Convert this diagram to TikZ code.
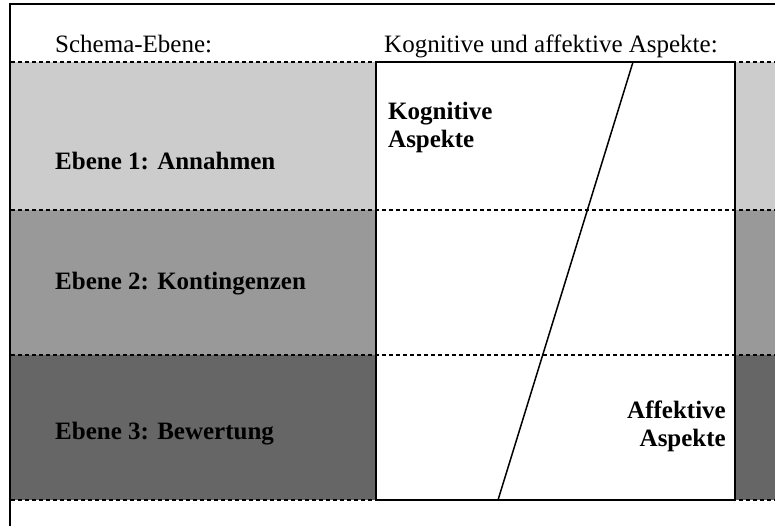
\documentclass[tikz,border=0pt]{standalone}
\usepackage{fontspec}
\setmainfont{Liberation Serif}
\usetikzlibrary{positioning}
\definecolor{ebeneA}{gray}{0.8}
\definecolor{ebeneB}{gray}{0.6}
\definecolor{ebeneC}{gray}{0.4}
\tikzset{
  txt/.style={font=\fontsize{25}{28}\selectfont, inner sep=0pt},
  bold/.style={txt, font=\fontsize{25}{28}\selectfont\bfseries},
  trenner/.style={line width=1.5pt, dash pattern=on 4pt off 3pt},
}
\begin{document}
\begin{tikzpicture}[x=1pt,y=-1pt]
        \useasboundingbox (0,0) rectangle (775,525);
        \begin{scope}
        \clip (0,0) rectangle (775,525);
        % Rahmen
        \draw[line width=1.5pt] (10,4) rectangle (800,550);
        % Ebenen
        \fill[ebeneA] (11,62) rectangle (780,210);
        \fill[ebeneB] (11,210) rectangle (780,355);
        \fill[ebeneC] (11,355) rectangle (780,500);
        \fill[white] (376,62) rectangle (735,500);
        \foreach \y in {62,210,355,500}
            \draw[trenner] (11,\y) -- (780,\y);
        \end{scope}
        \draw[line width=1.5pt] (376,62) rectangle (735,500);
        % Diagonale
        \coordinate (diagTop) at (633,62);
        \coordinate (diagBot) at (498,500);
        \draw[line width=1.5pt] (diagTop) -- (diagBot);
        % Texte
        \node[txt, anchor=base west] (schema) at (55,52) {Schema-Ebene:};
        \node[txt, anchor=base west] (aspekte) at (384,52) {Kognitive und affektive Aspekte:};
        \node[bold, anchor=base west] (ebene1) at (55,169) {Ebene 1: Annahmen};
        \node[bold, anchor=base west] (ebene2) at (55,289) {Ebene 2: Kontingenzen};
        \node[bold, anchor=base west] (ebene3) at (55,439) {Ebene 3: Bewertung};
        \node[bold, anchor=north west, align=left] (kognitiv) at (388,102) {Kognitive\\Aspekte};
        \node[bold, anchor=north east, align=right] (affektiv) at (726,401) {Affektive\\Aspekte};
\end{tikzpicture}
\end{document}
